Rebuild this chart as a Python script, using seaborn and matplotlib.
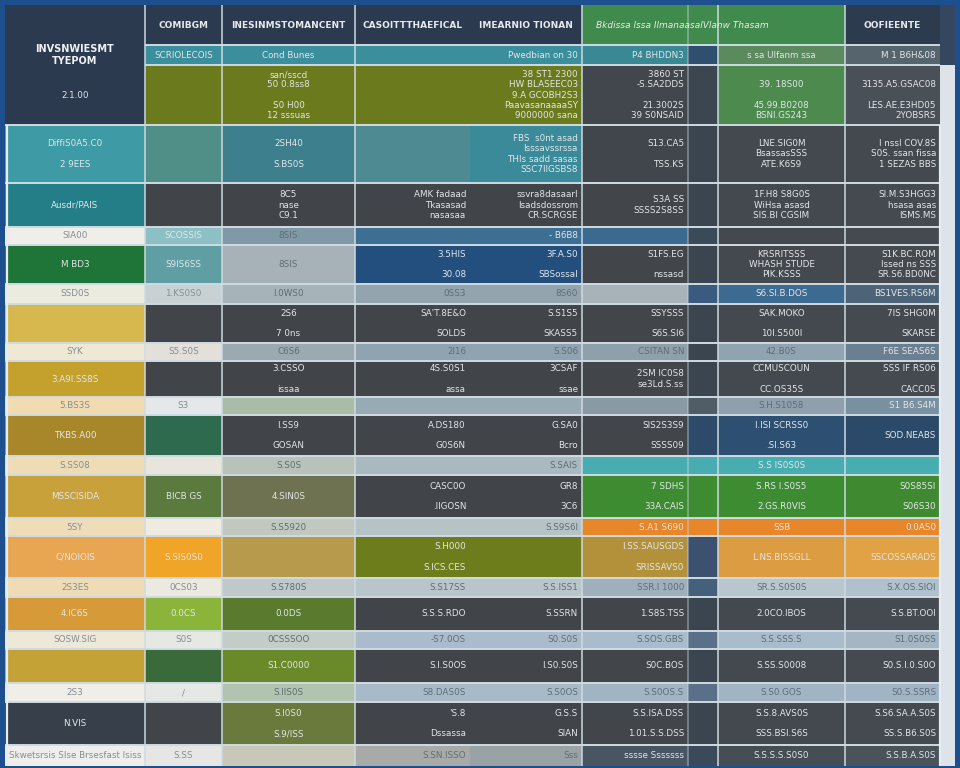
import numpy as np
import matplotlib
matplotlib.use("Agg")
import matplotlib.pyplot as plt
from matplotlib.colors import ListedColormap, to_rgb
import seaborn as sns

# table layout (pixel widths / heights of the columns and rows)
col_widths = [140, 77, 133, 115, 112, 106, 30, 127, 95, 15]
row_heights = [40, 20, 60, 58, 44, 18, 39, 20, 39, 18, 36, 18, 41, 19,
               43, 18, 42, 19, 34, 18, 34, 19, 43, 21]

# fill colour of every cell, one list per row
cell_colors = [
    ['#2b3a4e', '#2b3a4e', '#2b3a4e', '#2b3a4e', '#2b3a4e', '#3f8a4c', '#3f8a4c', '#3f8a4c', '#2d3b4f', '#34475e'],
    ['#2b3a4e', '#3b8f9c', '#3b8f9c', '#3b8f9c', '#3b8f9c', '#3a8894', '#2f4f6e', '#5b8a5e', '#56646e', '#34475e'],
    ['#2b3a4e', '#6b7a1c', '#6b7a1c', '#6b7a1c', '#6b7a1c', '#42474d', '#3c4650', '#4c8a4e', '#4a5057', '#dde3e8'],
    ['#3e9aa4', '#4f8f87', '#3d7f8c', '#4d8a92', '#3a8a9a', '#40464c', '#3a4550', '#43494f', '#43494f', '#dde3e8'],
    ['#237e88', '#414549', '#414549', '#414549', '#414549', '#42464b', '#3b4550', '#44494f', '#454a50', '#dde3e8'],
    ['#efeee8', '#8cc0c4', '#7f9aa6', '#3d6f94', '#3d6f94', '#3a6a90', '#3a4a58', '#44494f', '#454a50', '#dde3e8'],
    ['#1f7438', '#5f9fa4', '#a7b2b8', '#234f7e', '#234f7e', '#42464b', '#3b4550', '#44494f', '#454a50', '#dde3e8'],
    ['#ecebe0', '#c8d2d4', '#a6b3b8', '#93a4ae', '#93a4ae', '#a7b3b8', '#3a5a80', '#3d6a90', '#4d6478', '#dde3e8'],
    ['#d7b84e', '#414549', '#414549', '#414549', '#414549', '#42464b', '#3b4550', '#44494f', '#454a50', '#dde3e8'],
    ['#efe8d5', '#e2e0d8', '#9aaab0', '#8fa4b0', '#8fa4b0', '#8ea0aa', '#3b4550', '#8fa4b0', '#6a8090', '#dde3e8'],
    ['#c3a12c', '#414549', '#414549', '#414549', '#414549', '#42464b', '#3b4550', '#44494f', '#454a50', '#dde3e8'],
    ['#f0dcb0', '#e4e8ea', '#a8bca8', '#98aab4', '#98aab4', '#8a9aa4', '#505c66', '#8fa0ac', '#7890a0', '#dde3e8'],
    ['#a8862a', '#2e6a4e', '#414549', '#414549', '#414549', '#42464b', '#2e4a6a', '#2c4f72', '#2b4a6a', '#dde3e8'],
    ['#eedcb6', '#e8e6dc', '#b8c2b8', '#a9b9c0', '#a9b9c0', '#48adb0', '#48adb0', '#48adb0', '#48adb0', '#dde3e8'],
    ['#c9a13a', '#5a7a3e', '#6e7250', '#414549', '#414549', '#3d8c32', '#3d8c32', '#3d8c32', '#3f8a30', '#dde3e8'],
    ['#efdcb8', '#efebe0', '#c0c8c0', '#b5c2c6', '#b5c2c6', '#e8862a', '#e8862a', '#e8862a', '#e8862a', '#dde3e8'],
    ['#e8a552', '#f0a428', '#b89a4c', '#6e7d1c', '#6e7d1c', '#b3913a', '#3c5070', '#dc9c42', '#e0a245', '#dde3e8'],
    ['#f0dcb4', '#ebe9e0', '#bfc9cc', '#b8c6cc', '#b8c6cc', '#9fb0bc', '#45607a', '#b8c6d0', '#b0c0cc', '#dde3e8'],
    ['#d69a38', '#8ab43a', '#5a7a2e', '#414549', '#414549', '#42464b', '#3b4550', '#44494f', '#454a50', '#dde3e8'],
    ['#ede8d8', '#e6e8e2', '#c4ccc8', '#aabccb', '#aabccb', '#a8bccb', '#5a7088', '#a8bccc', '#a4b6c4', '#dde3e8'],
    ['#c4a236', '#3a6a3a', '#6a8a2a', '#414549', '#414549', '#42464b', '#3b4550', '#44494f', '#454a50', '#dde3e8'],
    ['#efeee8', '#e6e8e6', '#b0c4b0', '#a8bac8', '#a8bac8', '#a0b4c4', '#5a7088', '#a0b4c4', '#a0b4c4', '#dde3e8'],
    ['#363f4a', '#414549', '#6a7a3c', '#414549', '#414549', '#42464b', '#3b4550', '#44494f', '#454a50', '#dde3e8'],
    ['#eeeeea', '#e6e6e4', '#c8c8b8', '#a8aaa8', '#9aa2a6', '#4a5562', '#3a4a5a', '#454d55', '#4a525a', '#dde3e8'],
]

header_labels = ['', 'COMIBGM', 'INESINMSTOMANCENT', 'CASOITTTHAEFICAL', 'IMEARNIO TIONAN',
                 'Bkdissa lssa IlmanaasalVlanw Thasam', '', '', 'OOFIEENTE']

# body text, one list per row (row 0 is the header above)
cell_text = [
    [''] * 9,
    ['INVSNWIESMT\nTYEPOM', 'SCRIOLECOIS', 'Cond Bunes', '', 'Pwedbian on 30', 'P4 BHDDN3', '', 's sa Ulfanm ssa', 'M 1 B6H&08'],
    ['2.1.00', '', 'san/sscd\n50 0.8ss8\n\nS0 H00\n12 sssuas', '', '38 ST1 2300\nHW BLASEEC03\n9.A GCOBH2S3\nPaavasanaaaaSY\n9000000 sana',
     '3860 ST\n-S.SA2DDS\n\n21.3002S\n39 S0NSAID', '', '\n39. 18S00\n\n45.99.B0208\nBSNI.GS243', '\n3135.A5.GSAC08\n\nLES.AE.E3HD05\n2YOBSRS'],
    ['DiffiS0A5.C0\n\n2 9EES', '', '2SH40\n\nS.BS0S', '', 'FBS  s0nt asad\nIsssavssrssa\nTHIs sadd sasas\nSSC7IIGSBS8',
     'S13.CA5\n\nTSS.KS', '', 'LNE.SIG0M\nBsassasSSS\nATE.K6S9', 'I nssl COV.8S\nS0S. ssan fissa\n1 SEZAS BBS'],
    ['Ausdr/PAIS', '', '8C5\nnase\nC9.1', 'AMK fadaad\nTkasasad\nnasasaa', 'ssvra8dasaarl\nIsadsdossrom\nCR.SCRGSE',
     'S3A SS\nSSSS2S8SS', '', '1F.H8 S8G0S\nWiHsa asasd\nSIS.BI CGSIM', 'SI.M.S3HGG3\nhsasa asas\nISMS.MS'],
    ['SIA00', 'SCOSSIS', '8SIS', '', '- B6B8', '', '', '', ''],
    ['M BD3', 'S9IS6SS', '8SIS', '3.5HIS\n\n30.08', '3F.A.S0\n\nSBSossal', 'S1FS.EG\n\nnssasd', '',
     'KRSRITSSS\nWHASH STUDE\nPIK.KSSS', 'S1K.BC.ROM\nIssed ns SSS\nSR.S6.BD0NC'],
    ['SSD0S', '1.KS0S0', 'I.0WS0', '0SS3', '8S60', '', '', 'S6.SI.B.DOS', 'BS1VES.RS6M'],
    ['', '', '2S6\n\n7 0ns', "SA'T.8E&O\n\nSOLDS", 'S.S1S5\n\nSKASS5', 'SSYSSS\n\nS6S.SI6', '', 'SAK.MOKO\n\n10I.S500I', '7IS SHG0M\n\nSKARSE'],
    ['SYK', 'S5.S0S', 'C6S6', '2I16', 'S.S06', 'CSITAN SN', '', '42.B0S', 'F6E SEAS6S'],
    ['3.A9I.SS8S', '', '3.CSSO\n\nissaa', '4S.S0S1\n\nassa', '3CSAF\n\nssae', '2SM IC0S8\nse3Ld.S.ss', '', 'CCMUSCOUN\n\nCC.OS35S', 'SSS IF RS06\n\nCACC0S'],
    ['5.BS3S', 'S3', '', '', '', '', '', 'S.H.S1058', 'S1 B6.S4M'],
    ['TKBS.A00', '', 'I.SS9\n\nGOSAN', 'A.DS180\n\nG0S6N', 'G.SA0\n\nBcro', 'SIS2S3S9\n\nSSSS09', '', 'I.ISI SCRSS0\n\n.SI.S63', 'SOD.NEABS'],
    ['S.SS08', '', 'S.S0S', '', 'S.SAIS', '', '', 'S.S IS0S0S', ''],
    ['MSSCISIDA', 'BICB GS', '4.SIN0S', 'CASC0O\n\n.IIGOSN', 'GR8\n\n3C6', '7 SDHS\n\n33A.CAIS', '', 'S.RS I.S0S5\n\n2.GS.R0VIS', 'S0S85SI\n\nS06S30'],
    ['5SY', '', 'S.S5920', '', 'S.S9S6I', 'S.A1 S690', '', 'SSB', '0.0AS0'],
    ['C/NOIOIS', 'S.SIS0S0', '', 'S.H000\n\nS.ICS.CES', '', 'I.SS.SAUSGDS\n\nSRISSAVS0', '', 'L.NS.BISSGLL', 'SSCOSSARADS'],
    ['2S3ES', '0CS03', 'S.S780S', 'S.S17SS', 'S.S.ISS1', 'SSR.I 1000', '', 'SR.S.S0S0S', 'S.X.OS.SIOI'],
    ['4.IC6S', '0.0CS', '0.0DS', 'S.S.S.RDO', 'S.SSRN', '1.S8S.TSS', '', '2.0CO.IBOS', 'S.S.BT.OOI'],
    ['SOSW.SIG', 'S0S', '0CSSSOO', '-S7.0OS', 'S0.S0S', 'S.SOS.GBS', '', 'S.S.SSS.S', 'S1.0S0SS'],
    ['', '', 'S1.C0000', 'S.I.S0OS', 'I.S0.S0S', 'S0C.BOS', '', 'S.SS.S0008', 'S0.S.I.0.S0O'],
    ['2S3', '/', 'S.IIS0S', 'S8.DAS0S', 'S.S0OS', 'S.S0OS.S', '', 'S.S0.GOS', 'S0.S.SSRS'],
    ['N.VIS', '', 'S.I0S0\n\nS.9/ISS', "'S.8\n\nDssassa", 'G.S.S\n\nSIAN', 'S.S.ISA.DSS\n\n1.01.S.S.DSS', '',
     'S.S.8.AVS0S\n\nSSS.BSI.S6S', 'S.S6.SA.A.S0S\n\nSS.S.B6.S0S'],
    ['Skwetsrsis Slse Brsesfast Isiss', 'S.SS', '', 'S.SN.ISSO', 'Sss', 'sssse Sssssss', '', 'S.S.S.S.S0S0', 'S.S.B.A.S0S'],
]

col_align = ['center', 'center', 'center', 'right', 'right', 'right', None, 'center', 'right']

sns.set_theme(style='white')
plt.rcParams['font.family'] = ['DejaVu Sans']

# map colours to indices and expand to a pixel grid
palette = sorted({c for row in cell_colors for c in row})
lookup = {c: i for i, c in enumerate(palette)}
idx = np.array([[lookup[c] for c in row] for row in cell_colors])
grid = np.repeat(np.repeat(idx, row_heights, axis=0), col_widths, axis=1)

fig = plt.figure(figsize=(9.6, 7.68), dpi=100, facecolor='#1d4e8e')
ax = fig.add_axes([5 / 960, 2 / 768, 950 / 960, 761 / 768])
sns.heatmap(grid, cmap=ListedColormap(palette), vmin=-0.5, vmax=len(palette) - 0.5,
            cbar=False, xticklabels=False, yticklabels=False, ax=ax, rasterized=True)
ax.set_xlim(0, sum(col_widths))
ax.set_ylim(sum(row_heights), 0)

x_edges = np.concatenate([[0], np.cumsum(col_widths)])
y_edges = np.concatenate([[0], np.cumsum(row_heights)])
table_right = x_edges[-2]

# grid lines
for i, y in enumerate(y_edges[1:-1], start=1):
    x0 = x_edges[1] if i < 3 else 0
    ax.hlines(y, x0, table_right, color='#cfdbe2', lw=1.4)
for j, x in enumerate(x_edges[1:-2], start=1):
    if j == 4:
        continue
    ax.vlines(x, 0, y_edges[-1], color='#cfdbe2', lw=1.2, alpha=0.45 if j == 6 else 0.9)
ax.vlines([1.5, table_right], y_edges[3], y_edges[-1], color='#e6edf2', lw=1.6)


def text_color(hex_color):
    # grey text on pale, unsaturated cells; light text on dark or coloured ones
    r, g, b = to_rgb(hex_color)
    lum = 0.299 * r + 0.587 * g + 0.114 * b
    sat = max(r, g, b) - min(r, g, b)
    if lum > 0.8:
        return '#858d93'
    if lum > 0.55 and sat < 0.2:
        return '#5f6c76'
    return '#e2e6e8'


# header row
for j, label in enumerate(header_labels):
    if not label:
        continue
    yc = (y_edges[0] + y_edges[1]) / 2
    if j == 5:
        ax.text(x_edges[5] + 14, yc, label, ha='left', va='center', fontsize=6.5,
                color='#e8eee4', style='italic')
    else:
        ax.text((x_edges[j] + x_edges[j + 1]) / 2, yc, label, ha='center', va='center',
                fontsize=6.5, fontweight='bold', color='#e6eaee')

# body cells
for i, row in enumerate(cell_text):
    yc = (y_edges[i] + y_edges[i + 1]) / 2
    for j, label in enumerate(row):
        if not label or col_align[j] is None:
            continue
        if col_align[j] == 'center':
            xc = (x_edges[j] + x_edges[j + 1]) / 2
        else:
            xc = x_edges[j + 1] - 4
        bold = (i == 1 and j == 0)
        ax.text(xc, yc, label, ha=col_align[j], va='center', multialignment=col_align[j],
                fontsize=7 if bold else 6.3, fontweight='bold' if bold else 'normal',
                linespacing=1.15, color='#eef1f3' if bold else text_color(cell_colors[i][j]))

ax.axis('off')
fig.savefig('out.png', dpi=100, facecolor=fig.get_facecolor())
